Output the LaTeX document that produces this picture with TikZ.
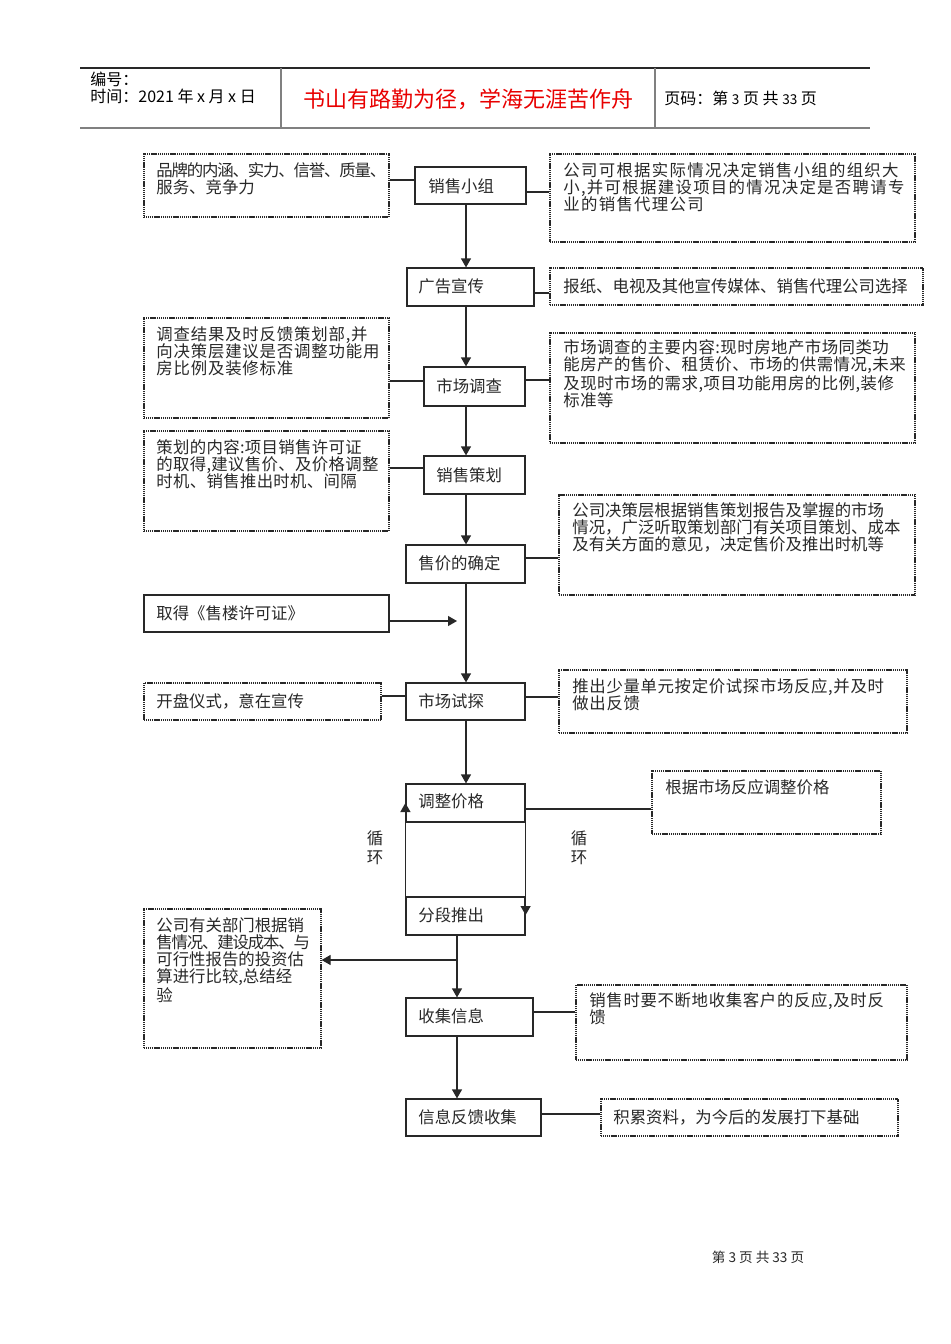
\documentclass[tikz,border=0pt]{standalone}
\usepackage{fontspec}
\setmainfont{Noto Sans CJK SC}
\usetikzlibrary{arrows.meta,fit}
\definecolor{ink}{RGB}{40,40,40}
\definecolor{titlered}{RGB}{232,0,0}
\newcommand{\bodyfs}{\fontsize{8.2pt}{8.5pt}\selectfont}
\newcommand{\headfs}{\fontsize{8pt}{9pt}\selectfont}
\newcommand{\squeeze}[1]{{\addfontfeature{LetterSpace=-7}#1}}
\tikzset{
  mainbox/.style={draw=ink, line width=0.6pt, inner sep=0pt},
  sidebox/.style={draw=ink, line width=0.6pt, dash pattern=on 0.6pt off 0.35pt, inner sep=0pt},
  solidbox/.style={draw=ink, line width=0.6pt, inner sep=0pt},
  tl/.style={anchor=north west, align=left, inner sep=0pt, font=\bodyfs, text=ink},
  tw/.style={anchor=west, align=left, inner sep=0pt, font=\bodyfs, text=ink},
  ls/.style={font={\bodyfs\addfontfeature{LetterSpace=#1}}},
  conn/.style={draw=ink, line width=0.6pt},
  arr/.style={conn, -{Triangle[length=4.5pt,width=5pt]}},
}
\begin{document}
\begin{tikzpicture}[x=0.5pt,y=-0.5pt]
\useasboundingbox (0,0) rectangle (950,1344);
% header
\draw[line width=0.6pt, ink] (80,68) -- (870,68);
\draw[line width=1.2pt, gray] (80,128) -- (870,128);
\draw[line width=0.6pt, gray] (281,68) -- (281,128);
\draw[line width=0.6pt, gray] (655,68) -- (655,128);
\node[anchor=west, inner sep=0pt, font=\headfs] (hno) at (90,79) {编号：};
\node[anchor=west, inner sep=0pt, font=\headfs] (htime) at (90,96) {时间：2021 年 x 月 x 日};
\node[inner sep=0pt, font=\fontsize{11pt}{12pt}\selectfont, text=titlered] (htitle) at (468,99) {书山有路勤为径，学海无涯苦作舟};
\node[anchor=west, inner sep=0pt, font=\headfs] (hpage) at (664,98) {页码：第 {\fontsize{6.8pt}{8pt}\selectfont 3} 页 共 {\fontsize{6.8pt}{8pt}\selectfont 33} 页};

% main boxes
\node[mainbox, fit={(415,167) (526,204)}] (xszz) {};
\node[tw] (xszzt) at (428,186) {销售小组};
\node[mainbox, fit={(407,268) (534,306)}] (ggxc) {};
\node[tw] (ggxct) at (418,286) {广告宣传};
\node[mainbox, fit={(424,367) (525,406)}] (scdc) {};
\node[tw] (scdct) at (436,386) {市场调查};
\node[mainbox, fit={(424,456) (525,494)}] (xsch) {};
\node[tw] (xscht) at (436,475) {销售策划};
\node[mainbox, fit={(406,545) (525,583)}] (sjqd) {};
\node[tw] (sjqdt) at (418,563) {售价的确定};
\node[mainbox, fit={(406,683) (525,720)}] (scts) {};
\node[tw] (scts t) at (418,701) {市场试探};
\node[mainbox, fit={(406,784) (525,822)}] (tzjg) {};
\node[tw] (tzjgt) at (418,801) {调整价格};
\node[mainbox, fit={(406,897) (525,935)}] (fdtc) {};
\node[tw] (fdtct) at (418,915) {分段推出};
\node[mainbox, fit={(406,998) (533,1036)}] (sjxx) {};
\node[tw] (sjxxt) at (418,1016) {收集信息};
\node[mainbox, fit={(406,1099) (541,1136)}] (xxfk) {};
\node[tw] (xxfkt) at (418,1117) {信息反馈收集};

% side boxes
\node[sidebox, fit={(144,154) (389,217)}] (pp) {};
\node[tl] (ppt) at (156,162) {\squeeze{品牌的内涵、实力、信誉、质量、}\\服务、竞争力};
\node[sidebox, fit={(550,154) (915,242)}] (gs1) {};
\node[tl, ls=8] (gs1t) at (563,162) {公司可根据实际情况决定销售小组的组织大\\小,并可根据建设项目的情况决定是否聘请专\\业的销售代理公司};
\node[sidebox, fit={(550,268) (923,305)}] (bz) {};
\node[tw] (bzt) at (563,286) {报纸、电视及其他宣传媒体、销售代理公司选择};
\node[sidebox, fit={(144,318) (389,418)}] (dc) {};
\node[tl, ls=5] (dct) at (156,326) {调查结果及时反馈策划部,并\\向决策层建议是否调整功能用\\房比例及装修标准};
\node[sidebox, fit={(550,333) (915,443)}] (nr) {};
\node[tl, ls=3] (nrt) at (563,339) {市场调查的主要内容:现时房地产市场同类功\\能房产的售价、租赁价、市场的供需情况,未来\\及现时市场的需求,项目功能用房的比例,装修\\标准等};
\node[sidebox, fit={(144,431) (389,531)}] (ch) {};
\node[tl, ls=2] (cht) at (156,439) {策划的内容:项目销售许可证\\的取得,建议售价、及价格调整\\时机、销售推出时机、间隔};
\node[sidebox, fit={(559,495) (915,595)}] (jc) {};
\node[tl] (jct) at (572,502) {公司决策层根据销售策划报告及掌握的市场\\情况，广泛听取策划部门有关项目策划、成本\\及有关方面的意见，决定售价及推出时机等};
\node[solidbox, fit={(144,595) (389,632)}] (qd) {};
\node[tw] (qdt) at (156,613) {取得《售楼许可证》};
\node[sidebox, fit={(144,683) (381,720)}] (kp) {};
\node[tw] (kpt) at (156,701) {开盘仪式，意在宣传};
\node[sidebox, fit={(559,670) (907,733)}] (tc) {};
\node[tl, ls=4] (tct) at (572,678) {推出少量单元按定价试探市场反应,并及时\\做出反馈};
\node[sidebox, fit={(652,771) (881,834)}] (gj) {};
\node[tl] (gjt) at (665,779) {根据市场反应调整价格};
\node[sidebox, fit={(144,909) (321,1048)}] (yg) {};
\node[tl] (ygt) at (156,917) {公司有关部门根据销\\\squeeze{售情况、建设成本、与}\\可行性报告的投资估\\算进行比较,总结经\\验};
\node[sidebox, fit={(576,985) (907,1060)}] (xs) {};
\node[tl, ls=4] (xst) at (589,992) {销售时要不断地收集客户的反应,及时反\\馈};
\node[sidebox, fit={(601,1099) (898,1136)}] (jl) {};
\node[tw] (jlt) at (613,1117) {积累资料，为今后的发展打下基础};

% loop labels
\node[align=center, inner sep=0pt, font=\fontsize{8.2pt}{9.5pt}\selectfont, text=ink] (lpl) at (375,848) {循\\环};
\node[align=center, inner sep=0pt, font=\fontsize{8.2pt}{9.5pt}\selectfont, text=ink] (lpr) at (579,848) {循\\环};

% connectors
\draw[conn] (pp.east |- 0,180) -- (xszz.west |- 0,180);
\draw[conn] (xszz.east |- 0,192) -- (gs1.west |- 0,192);
\draw[arr] (xszz.south -| 466,0) -- (ggxc.north -| 466,0);
\draw[conn] (ggxc.east |- 0,293) -- (bz.west |- 0,293);
\draw[arr] (ggxc.south -| 466,0) -- (scdc.north -| 466,0);
\draw[conn] (dc.east |- 0,381) -- (scdc.west |- 0,381);
\draw[conn] (scdc.east |- 0,380) -- (nr.west |- 0,380);
\draw[arr] (scdc.south -| 466,0) -- (xsch.north -| 466,0);
\draw[conn] (ch.east |- 0,468) -- (xsch.west |- 0,468);
\draw[arr] (xsch.south -| 466,0) -- (sjqd.north -| 466,0);
\draw[conn] (sjqd.east |- 0,558) -- (jc.west |- 0,558);
\draw[arr] (sjqd.south -| 466,0) -- (scts.north -| 466,0);
\coordinate (qdend) at (457,621);
\draw[arr] (qd.east |- qdend) -- (qdend);
\draw[conn] (kp.east |- 0,696) -- (scts.west |- 0,696);
\draw[conn] (scts.east |- 0,697) -- (tc.west |- 0,697);
\draw[arr] (scts.south -| 466,0) -- (tzjg.north -| 466,0);
\draw[conn] (tzjg.east |- 0,809) -- (gj.west |- 0,809);
\draw[arr] (fdtc.north west) -- (tzjg.west |- 0,803);
\draw[arr] (tzjg.south east) -- (fdtc.east |- 0,915);
\draw[arr] (fdtc.south -| 457,0) -- (sjxx.north -| 457,0);
\coordinate (br) at (457,960);
\draw[arr] (br) -- (yg.east |- br);
\draw[conn] (sjxx.east |- 0,1012) -- (xs.west |- 0,1012);
\draw[arr] (sjxx.south -| 457,0) -- (xxfk.north -| 457,0);
\draw[conn] (xxfk.east |- 0,1114) -- (jl.west |- 0,1114);

% footer
\node[inner sep=0pt, font=\fontsize{6.8pt}{8pt}\selectfont, text=ink] (foot) at (758,1257) {第 3 页 共 33 页};
\end{tikzpicture}
\end{document}
